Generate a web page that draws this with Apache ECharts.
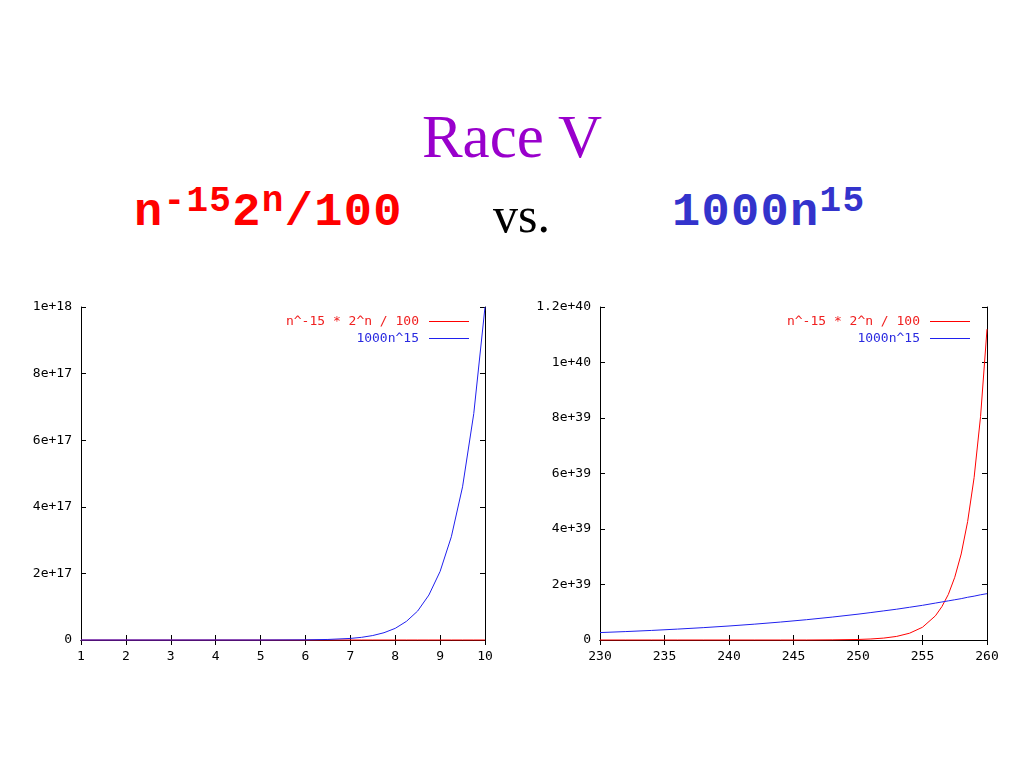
<!DOCTYPE html>
<html>
<head>
<meta charset="utf-8">
<script src="https://cdn.jsdelivr.net/npm/echarts@6/dist/echarts.min.js"></script>
<style>
  body { margin: 0; background: #fff; }
  .page { position: relative; width: 1024px; height: 768px; overflow: hidden; background: #fff; }
  .head { position: absolute; white-space: nowrap; line-height: 1; }
  .title { left: 0; width: 1024px; text-align: center; top: 102px; font: 61px "Liberation Serif", serif; color: #9900cc; }
  .mono { font-family: "Liberation Mono", monospace; font-weight: bold; font-size: 47px; top: 189px; letter-spacing: 1.3px; }
  .mono sup { font-size: 36px; vertical-align: baseline; position: relative; top: -14px; }
  .red { left: 134px; color: #ff0000; }
  .blue { left: 672px; color: #3333cc; }
  .vs { left: 493px; top: 186px; font: 50px "Liberation Serif", serif; color: #000; }
  .chart { position: absolute; top: 280px; width: 512px; height: 420px; }
  .left { left: 0; }
  .right { left: 512px; }
</style>
</head>
<body>
<div class="page">
  <div class="head title">Race V</div>
  <div class="head mono red">n<sup>-15</sup>2<sup>n</sup>/100</div>
  <div class="head vs">vs.</div>
  <div class="head mono blue">1000n<sup>15</sup></div>
  <div class="chart left"></div>
  <div class="chart right"></div>
</div>
<script>
// series names as printed in the gnuplot key
const redName = "n^-15 * 2^n / 100";
const blueName = "1000n^15";

// left plot, n = 1 .. 10
const leftN = [1, 2, 3, 4, 5, 6, 6.5, 7, 7.25, 7.5, 7.75, 8, 8.25, 8.5, 8.75, 9, 9.25, 9.5, 9.75, 10];
const leftRed = [0, 0, 0, 0, 0, 0, 0, 0, 0, 0, 0, 0, 0, 0, 0, 0, 0, 0, 0, 0];
const leftBlue = [1e3, 3.3e7, 1.4e10, 1.1e12, 3.1e13, 4.7e14, 1.6e15, 4.7e15, 8.0e15, 1.34e16,
  2.19e16, 3.5e16, 5.6e16, 8.7e16, 1.35e17, 2.06e17, 3.1e17, 4.6e17, 6.8e17, 1e18];
const leftXLabels = ["1", "2", "3", "4", "5", "6", "7", "8", "9", "10"];
const leftYLabels = ["0", "2e+17", "4e+17", "6e+17", "8e+17", "1e+18"];

// right plot, n = 230 .. 260
const rightN = [230, 232, 234, 236, 238, 240, 242, 244, 246, 248, 250, 251, 252, 253, 254, 255,
  256, 256.5, 257, 257.5, 258, 258.5, 259, 259.5, 260];
const rightRed = [0, 0, 0, 0, 0, 0, 0, 0, 0, 5.5e36, 1.9e37, 3.7e37, 6.9e37, 1.3e38, 2.45e38, 4.6e38,
  8.7e38, 1.2e39, 1.64e39, 2.26e39, 3.1e39, 4.27e39, 5.85e39, 8.05e39, 1.12e40];
const rightBlue = [2.68e38, 3.04e38, 3.45e38, 3.93e38, 4.45e38, 5.05e38, 5.72e38, 6.47e38, 7.31e38,
  8.26e38, 9.31e38, 9.89e38, 1.05e39, 1.11e39, 1.18e39, 1.25e39, 1.33e39, 1.37e39, 1.41e39, 1.45e39,
  1.49e39, 1.54e39, 1.58e39, 1.63e39, 1.67e39];
const rightXLabels = ["230", "235", "240", "245", "250", "255", "260"];
const rightYLabels = ["0", "2e+39", "4e+39", "6e+39", "8e+39", "1e+40", "1.2e+40"];

const labelFont = { color: "#000", fontFamily: "DejaVu Sans Mono", fontSize: 13 };
const frame = { show: true, lineStyle: { color: "#000", width: 1 } };
const tick = { show: true, inside: true, length: 5, lineStyle: { color: "#000" } };
// thin bar used as the key sample, like gnuplot's short line
const keyLine = "path://M0,0H40V1H0Z";

function pairs(xs, ys) {
  return xs.map((x, i) => [x, ys[i]]);
}

function makeOption(cfg) {
  const xLab = (v) => cfg.xLabels[Math.round((v - cfg.xMin) / cfg.xStep)];
  const yLab = (v) => cfg.yLabels[Math.round(v / cfg.yStep)];
  const xBase = { type: "value", min: cfg.xMin, max: cfg.xMax, interval: cfg.xStep,
    axisLine: frame, axisTick: tick, splitLine: { show: false } };
  const yBase = { type: "value", min: 0, max: cfg.yMax, interval: cfg.yStep,
    axisLine: frame, axisTick: tick, splitLine: { show: false } };
  return {
    animation: false,
    grid: { left: cfg.gridLeft, top: 27, width: cfg.gridWidth, height: 333 },
    legend: {
      orient: "vertical",
      right: cfg.legendRight,
      top: 30,
      align: "right",
      itemWidth: 40,
      itemHeight: 14,
      itemGap: 4,
      selectedMode: false,
      textStyle: { fontFamily: "DejaVu Sans Mono", fontSize: 13, padding: [0, 5, 0, 0] },
      data: [
        { name: redName, icon: keyLine, textStyle: { color: "#f02020" } },
        { name: blueName, icon: keyLine, textStyle: { color: "#2a2ae0" } },
      ],
    },
    xAxis: [
      Object.assign({}, xBase, { position: "bottom",
        axisLabel: Object.assign({ margin: 10, formatter: xLab }, labelFont) }),
      Object.assign({}, xBase, { position: "top", axisLabel: { show: false } }),
    ],
    yAxis: [
      Object.assign({}, yBase, { position: "left",
        axisLabel: Object.assign({ margin: 9, formatter: yLab }, labelFont) }),
      Object.assign({}, yBase, { position: "right", axisLabel: { show: false } }),
    ],
    series: [
      {
        name: redName,
        type: "line",
        data: pairs(cfg.n, cfg.red),
        symbol: "none",
        clip: false,
        lineStyle: { color: "#ff0000", width: 1 },
        itemStyle: { color: "#ff0000" },
        z: 3,
      },
      {
        name: blueName,
        type: "line",
        data: pairs(cfg.n, cfg.blue),
        symbol: "none",
        clip: false,
        lineStyle: { color: "#2020ee", width: 1 },
        itemStyle: { color: "#2020ee" },
        z: 4,
      },
    ],
  };
}

const chartLeft = echarts.init(document.querySelector(".left"));
const chartRight = echarts.init(document.querySelector(".right"));

chartLeft.setOption(makeOption({
  n: leftN, red: leftRed, blue: leftBlue,
  xMin: 1, xMax: 10, xStep: 1, yMax: 1e18, yStep: 2e17,
  xLabels: leftXLabels, yLabels: leftYLabels,
  gridLeft: 81, gridWidth: 404, legendRight: 38,
}));
chartRight.setOption(makeOption({
  n: rightN, red: rightRed, blue: rightBlue,
  xMin: 230, xMax: 260, xStep: 5, yMax: 1.2e40, yStep: 2e39,
  xLabels: rightXLabels, yLabels: rightYLabels,
  gridLeft: 88, gridWidth: 387, legendRight: 49,
}));

window.onresize = function () {
  chartLeft.resize();
  chartRight.resize();
};
</script>
</body>
</html>
